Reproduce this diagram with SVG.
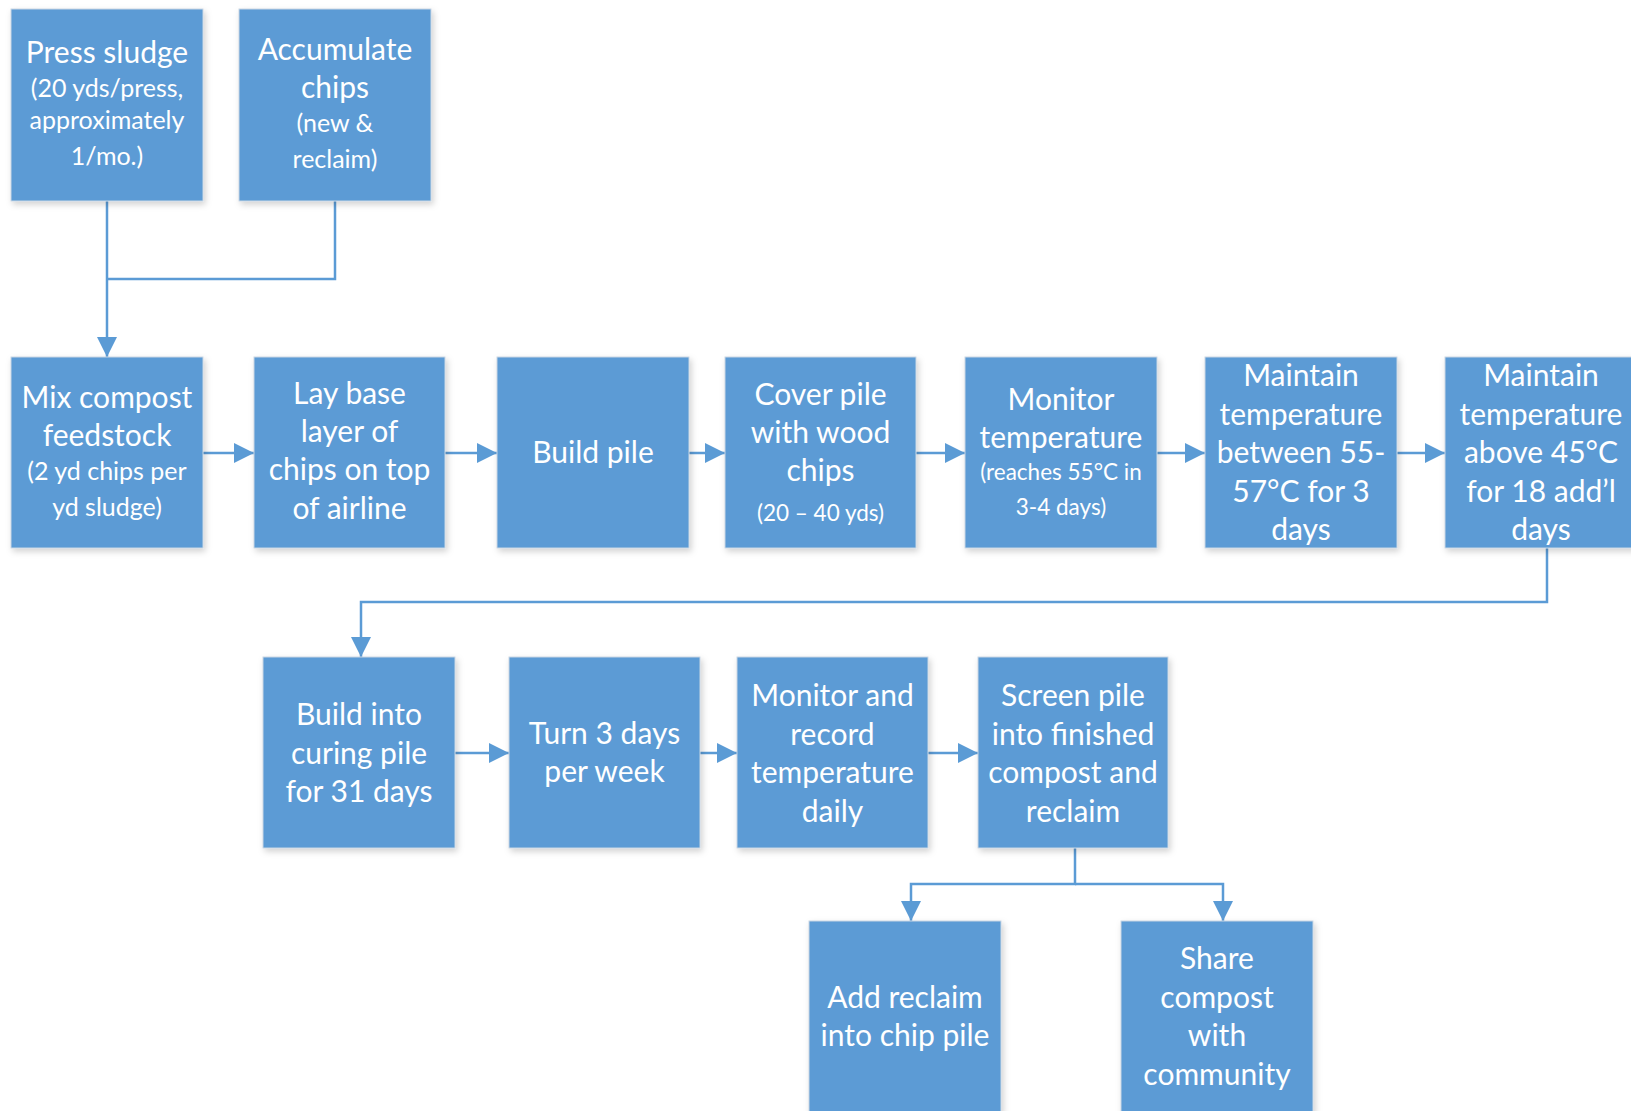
<svg xmlns="http://www.w3.org/2000/svg" width="1631" height="1111" viewBox="0 0 1631 1111">
<style>
.box{fill:#5B9BD5;stroke:#c9d6e3;stroke-width:1;filter:url(#sh);}
.t{font-family:Lato,"Liberation Sans",sans-serif;fill:#fff;text-anchor:middle;}
.b{font-size:30px;}
.m{font-size:25px;}
.s{font-size:22.5px;}
.c{fill:none;stroke:#5B9BD5;stroke-width:2.5;}
</style>
<defs>
<filter id="sh" x="-10%" y="-10%" width="130%" height="130%">
<feDropShadow dx="2" dy="3" stdDeviation="3" flood-color="#000" flood-opacity="0.18"/>
</filter>
<marker id="ah" markerUnits="userSpaceOnUse" markerWidth="20" markerHeight="20" viewBox="0 0 18 18" refX="18" refY="9" orient="auto">
<path d="M0,0 L18,9 L0,18 Z" fill="#5B9BD5"/>
</marker>
</defs>
<g id="connectors">
<path class="c" d="M107,201 V357" marker-end="url(#ah)"/>
<path class="c" d="M335,201 V279 H107"/>
<path class="c" d="M203,453 H254" marker-end="url(#ah)"/>
<path class="c" d="M445,453 H497" marker-end="url(#ah)"/>
<path class="c" d="M689,453 H725" marker-end="url(#ah)"/>
<path class="c" d="M916,453 H965" marker-end="url(#ah)"/>
<path class="c" d="M1157,453 H1205" marker-end="url(#ah)"/>
<path class="c" d="M1397,453 H1445" marker-end="url(#ah)"/>
<path class="c" d="M1547,548 V602 H361 V657" marker-end="url(#ah)"/>
<path class="c" d="M455,753 H509" marker-end="url(#ah)"/>
<path class="c" d="M700,753 H737" marker-end="url(#ah)"/>
<path class="c" d="M928,753 H978" marker-end="url(#ah)"/>
<path class="c" d="M1075,848 V884 H911 V921" marker-end="url(#ah)"/>
<path class="c" d="M1075,884 H1223 V921" marker-end="url(#ah)"/>
</g>
<g id="n1"><rect class="box" x="11" y="9" width="192" height="192"/>
<text class="t b" x="107" y="63">Press sludge</text>
<text class="t m" x="107" y="97">(20 yds/press,</text>
<text class="t m" x="107" y="129">approximately</text>
<text class="t m" x="107" y="165">1/mo.)</text></g>
<g id="n2"><rect class="box" x="239" y="9" width="192" height="192"/>
<text class="t b" x="335" y="60">Accumulate</text>
<text class="t b" x="335" y="98">chips</text>
<text class="t m" x="335" y="132">(new &amp;</text>
<text class="t m" x="335" y="168">reclaim)</text></g>
<g id="n3"><rect class="box" x="11" y="357" width="192" height="191"/>
<text class="t b" x="107" y="408">Mix compost</text>
<text class="t b" x="107" y="446">feedstock</text>
<text class="t m" x="107" y="480">(2 yd chips per</text>
<text class="t m" x="107" y="516">yd sludge)</text></g>
<g id="n4"><rect class="box" x="254" y="357" width="191" height="191"/>
<text class="t b" x="349.5" y="404">Lay base</text>
<text class="t b" x="349.5" y="442">layer of</text>
<text class="t b" x="349.5" y="480">chips on top</text>
<text class="t b" x="349.5" y="519">of airline</text></g>
<g id="n5"><rect class="box" x="497" y="357" width="192" height="191"/>
<text class="t b" x="593" y="463">Build pile</text></g>
<g id="n6"><rect class="box" x="725" y="357" width="191" height="191"/>
<text class="t b" x="820.5" y="405">Cover pile</text>
<text class="t b" x="820.5" y="443">with wood</text>
<text class="t b" x="820.5" y="481">chips</text>
<text class="t s" x="820.5" y="521">(20 – 40 yds)</text></g>
<g id="n7"><rect class="box" x="965" y="357" width="192" height="191"/>
<text class="t b" x="1061" y="410">Monitor</text>
<text class="t b" x="1061" y="448">temperature</text>
<text class="t s" x="1061" y="480">(reaches 55°C in</text>
<text class="t s" x="1061" y="515">3-4 days)</text></g>
<g id="n8"><rect class="box" x="1205" y="357" width="192" height="191"/>
<text class="t b" x="1301" y="386">Maintain</text>
<text class="t b" x="1301" y="424.5">temperature</text>
<text class="t b" x="1301" y="463">between 55-</text>
<text class="t b" x="1301" y="501.5">57°C for 3</text>
<text class="t b" x="1301" y="540">days</text></g>
<g id="n9"><rect class="box" x="1445" y="357" width="192" height="191"/>
<text class="t b" x="1541" y="386">Maintain</text>
<text class="t b" x="1541" y="424.5">temperature</text>
<text class="t b" x="1541" y="463">above 45°C</text>
<text class="t b" x="1541" y="501.5">for 18 add’l</text>
<text class="t b" x="1541" y="540">days</text></g>
<g id="n10"><rect class="box" x="263" y="657" width="192" height="191"/>
<text class="t b" x="359" y="725">Build into</text>
<text class="t b" x="359" y="763.5">curing pile</text>
<text class="t b" x="359" y="802">for 31 days</text></g>
<g id="n11"><rect class="box" x="509" y="657" width="191" height="191"/>
<text class="t b" x="604.5" y="743.5">Turn 3 days</text>
<text class="t b" x="604.5" y="782">per week</text></g>
<g id="n12"><rect class="box" x="737" y="657" width="191" height="191"/>
<text class="t b" x="832.5" y="706">Monitor and</text>
<text class="t b" x="832.5" y="744.5">record</text>
<text class="t b" x="832.5" y="783">temperature</text>
<text class="t b" x="832.5" y="821.5">daily</text></g>
<g id="n13"><rect class="box" x="978" y="657" width="190" height="191"/>
<text class="t b" x="1073" y="706">Screen pile</text>
<text class="t b" x="1073" y="744.5">into finished</text>
<text class="t b" x="1073" y="783">compost and</text>
<text class="t b" x="1073" y="821.5">reclaim</text></g>
<g id="n14"><rect class="box" x="809" y="921" width="192" height="192"/>
<text class="t b" x="905" y="1007.5">Add reclaim</text>
<text class="t b" x="905" y="1046">into chip pile</text></g>
<g id="n15"><rect class="box" x="1121" y="921" width="192" height="192"/>
<text class="t b" x="1217" y="969">Share</text>
<text class="t b" x="1217" y="1007.5">compost</text>
<text class="t b" x="1217" y="1046">with</text>
<text class="t b" x="1217" y="1084.5">community</text></g>
</svg>
